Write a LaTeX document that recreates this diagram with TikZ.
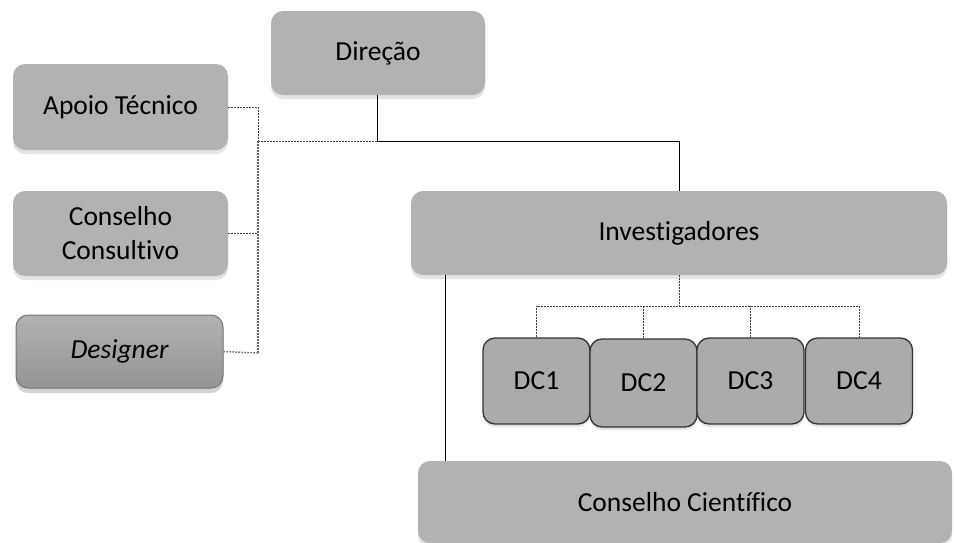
\documentclass[tikz,border=0pt]{standalone}
\usepackage{fontspec}
\setmainfont{Carlito}[Ligatures=NoCommon]
\usetikzlibrary{shadows}
\definecolor{boxfill}{HTML}{B2B2B2}
\definecolor{dcfill}{HTML}{ABABAB}
\begin{document}
\begin{tikzpicture}[x=1pt,y=-1pt,
  box/.style={rectangle, rounded corners=12pt, fill=boxfill, draw=none,
    drop shadow={shadow xshift=0pt, shadow yshift=-4pt, opacity=0.22},
    font=\fontsize{27.5}{34}\selectfont, align=center, inner sep=0pt},
  dcbox/.style={rectangle, rounded corners=12pt, fill=dcfill, draw=black!80, line width=1.3pt,
    drop shadow={shadow xshift=0pt, shadow yshift=-3pt, opacity=0.2},
    font=\fontsize{27.5}{34}\selectfont, inner sep=0pt, minimum width=107pt},
  desbox/.style={rectangle, rounded corners=12pt, top color=boxfill, bottom color=black!42, draw=black!55, line width=1pt,
    drop shadow={shadow xshift=0pt, shadow yshift=-5pt, opacity=0.35},
    font=\fontsize{27.5}{34}\selectfont\itshape, inner sep=0pt},
  solidline/.style={draw=black, line width=1pt},
  dashline/.style={draw=black!75, line width=1pt, dash pattern=on 2pt off 1pt},
  dotline/.style={draw=black!60, line width=1.4pt, dash pattern=on 1.5pt off 1.5pt}
]
\useasboundingbox (0,0) rectangle (954,542);
\fill[white] (0,0) rectangle (954,542);

% left column
\node[box, minimum width=215pt, minimum height=86pt] (apoio) at (120.5,107) {Apoio Técnico};
\node[box, minimum width=215pt, minimum height=85pt] (consult) at (120.5,233.5) {Conselho\\Consultivo};
\node[desbox, minimum width=207pt, minimum height=73pt] (designer) at (119.5,351.5) {Designer};

% top
\node[box, minimum width=214pt, minimum height=84pt] (direcao) at (378,53) {Direção};

% investigadores
\node[box, minimum width=536pt, minimum height=84pt] (invest) at (679,233) {Investigadores};

% DC boxes
\node[dcbox, minimum height=86pt] (dc1) at (536.5,381) {DC1};
\node[dcbox, minimum height=88pt] (dc2) at (643.5,383) {DC2};
\node[dcbox, minimum height=86pt] (dc3) at (750.5,381) {DC3};
\node[dcbox, minimum height=86pt] (dc4) at (859,381) {DC4};

% conselho cientifico
\node[box, minimum width=534pt, minimum height=82pt] (cientif) at (685,502) {Conselho Científico};

% connectors
\coordinate (j) at (377,141);
\coordinate (k) at (258,141);
\coordinate (ktop) at (258,107);
\coordinate (kbot) at (258,353);
\draw[solidline] (direcao.south -| j) -- (j) -| (invest.north);
\draw[dashline] (j) -- (k);
\draw[dashline] (apoio.east) -- (ktop) -- (k);
\draw[dashline] (consult.east) -- (consult.east -| k);
\draw[dotline] (k) -- (kbot);
\draw[dotline] (designer.east) -- (kbot);

\coordinate (m) at (679,306);
\draw[dashline] (invest.south) -- (m);
\draw[dashline] (dc1.north) -- (dc1.north |- m) -- (dc4.north |- m) -- (dc4.north);
\draw[dashline] (dc2.north) -- (dc2.north |- m);
\draw[dashline] (dc3.north) -- (dc3.north |- m);

\coordinate (s) at (445,0);
\draw[solidline] (invest.south -| s) -- (cientif.north -| s);
\end{tikzpicture}
\end{document}
